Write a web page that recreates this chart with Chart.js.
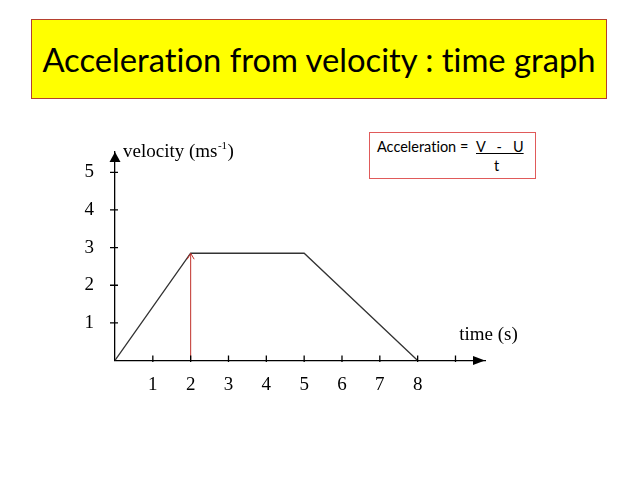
<!DOCTYPE html>
<html>
<head>
<meta charset="utf-8">
<script src="https://cdn.jsdelivr.net/npm/chart.js@4.4.0/dist/chart.umd.min.js"></script>
<style>
  body { margin: 0; width: 638px; height: 479px; overflow: hidden; background: #fff; position: relative; }
  #myChart { position: absolute; left: 0; top: 0; }
  #title {
    position: absolute; left: 31px; top: 19px; width: 576px; height: 80px;
    box-sizing: border-box; background: #ffff00; border: 1px solid #b5402f;
    font-family: Lato, "Open Sans", sans-serif; color: #000;
    font-variant-ligatures: none;
    display: flex; align-items: center; justify-content: center; white-space: nowrap;
  }
  #formula {
    position: absolute; left: 369px; top: 132px; width: 167px; height: 47px;
    box-sizing: border-box; border: 1px solid #e05a5a; background: #fff;
    font-family: Lato, "Open Sans", sans-serif; font-size: 14.5px; color: #000;
    font-variant-ligatures: none;
  }
  #formula span { position: absolute; white-space: pre; }
</style>
</head>
<body>
<canvas id="myChart" width="638" height="479"></canvas>
<div id="title">Acceleration from velocity : time graph</div>
<div id="formula">
  <span id="f1" style="left:7px; top:5px;">Acceleration = </span>
  <span id="f2" style="left:106px; top:5px; text-decoration:underline;">V   -   U</span>
  <span id="f3" style="left:124px; top:24px;">t</span>
</div>
<script>
// velocity : time data
let timeValues = [0, 2, 5, 8];
let velocityValues = [0, 2.85, 2.85, 0];

// red arrow at t = 2
let arrowTime = [2, 2];
let arrowVelocity = [0, 2.85];

let xTickValues = [1, 2, 3, 4, 5, 6, 7, 8, 9];
let xTickLabels = ['1', '2', '3', '4', '5', '6', '7', '8', ''];
let yTickValues = [1, 2, 3, 4, 5];
let yTickLabels = ['1', '2', '3', '4', '5'];

// fit the title text to the box width
let titleEl = document.getElementById('title');
let mctx = document.createElement('canvas').getContext('2d');
mctx.font = '32px Lato';
let w = mctx.measureText(titleEl.textContent).width;
titleEl.style.fontSize = (32 * 556 / w) + 'px';

let ctx = document.getElementById('myChart').getContext('2d');

let velocityPoints = [];
for (let i = 0; i < timeValues.length; i++) {
    velocityPoints.push({ x: timeValues[i], y: velocityValues[i] });
}
let arrowPoints = [];
for (let i = 0; i < arrowTime.length; i++) {
    arrowPoints.push({ x: arrowTime[i], y: arrowVelocity[i] });
}

let axisExtras = {
    id: 'axisExtras',
    afterDraw(chart) {
        let c = chart.ctx;
        let xs = chart.scales.x;
        let ys = chart.scales.y;
        let x0 = xs.getPixelForValue(0);
        let y0 = ys.getPixelForValue(0);
        let top = chart.chartArea.top;
        let right = chart.chartArea.right;
        c.save();
        c.strokeStyle = '#000';
        c.fillStyle = '#000';
        c.lineWidth = 1.3;

        // tick marks crossing the axes
        c.beginPath();
        xTickValues.forEach(v => {
            let px = xs.getPixelForValue(v);
            c.moveTo(px, y0 - 5);
            c.lineTo(px, y0 + 1.5);
        });
        yTickValues.forEach(v => {
            let py = ys.getPixelForValue(v);
            c.moveTo(x0 - 5, py);
            c.lineTo(x0 + 3, py);
        });
        c.stroke();

        // axis arrow heads
        c.beginPath();
        c.moveTo(x0, top);
        c.lineTo(x0 - 5.5, top + 10);
        c.lineTo(x0 + 5.5, top + 10);
        c.closePath();
        c.fill();
        c.beginPath();
        c.moveTo(right, y0);
        c.lineTo(right - 12, y0 - 4.5);
        c.lineTo(right - 12, y0 + 4.5);
        c.closePath();
        c.fill();

        // red arrow head
        let meta = chart.getDatasetMeta(1);
        let tip = meta.data[meta.data.length - 1];
        c.strokeStyle = '#c0302a';
        c.lineWidth = 1;
        c.beginPath();
        c.moveTo(tip.x - 3.5, tip.y + 6);
        c.lineTo(tip.x, tip.y);
        c.lineTo(tip.x + 3.5, tip.y + 6);
        c.stroke();

        // axis titles
        c.font = '19px "Liberation Serif"';
        c.textBaseline = 'alphabetic';
        let vx = x0 + 8;
        let vy = top + 4.5;
        let t1 = 'velocity (ms';
        c.fillText(t1, vx, vy);
        let w1 = c.measureText(t1).width;
        c.font = '11px "Liberation Serif"';
        c.fillText('-1', vx + w1 + 0.5, vy - 8);
        let w2 = c.measureText('-1').width;
        c.font = '19px "Liberation Serif"';
        c.fillText(')', vx + w1 + w2 + 1, vy);

        c.fillText('time (s)', xs.getPixelForValue(9.1), ys.getPixelForValue(0.55));
        c.restore();
    }
};

let myChart = new Chart(ctx, {
    type: 'scatter',
    data: {
        datasets: [{
            label: 'velocity',
            data: velocityPoints,
            showLine: true,
            borderColor: '#333',
            borderWidth: 1.3,
            pointRadius: 0,
            tension: 0
        },
        {
            label: 'arrow',
            data: arrowPoints,
            showLine: true,
            borderColor: '#c0302a',
            borderWidth: 1,
            pointRadius: 0
        }]
    },
    options: {
        responsive: false,
        animation: false,
        layout: {
            padding: { left: 0, top: 152, right: 153, bottom: 0 }
        },
        plugins: {
            legend: { display: false },
            tooltip: { enabled: false }
        },
        scales: {
            x: {
                type: 'linear',
                min: 0,
                max: 9.78,
                afterBuildTicks: s => { s.ticks = xTickValues.map(v => ({ value: v })); },
                afterFit: s => { s.height = 479 - 360.5; },
                grid: { display: false },
                border: { display: true, color: '#000', width: 1.3 },
                ticks: {
                    padding: 5,
                    color: '#000',
                    font: { family: 'Liberation Serif', size: 19 },
                    callback: v => xTickLabels[xTickValues.indexOf(v)]
                }
            },
            y: {
                type: 'linear',
                min: 0,
                max: 5.54,
                afterBuildTicks: s => { s.ticks = yTickValues.map(v => ({ value: v })); },
                afterFit: s => { s.width = 115; },
                grid: { display: false },
                border: { display: true, color: '#000', width: 1.3 },
                ticks: {
                    padding: 13,
                    color: '#000',
                    font: { family: 'Liberation Serif', size: 19 },
                    callback: v => yTickLabels[yTickValues.indexOf(v)]
                }
            }
        }
    },
    plugins: [axisExtras]
});
</script>
</body>
</html>
